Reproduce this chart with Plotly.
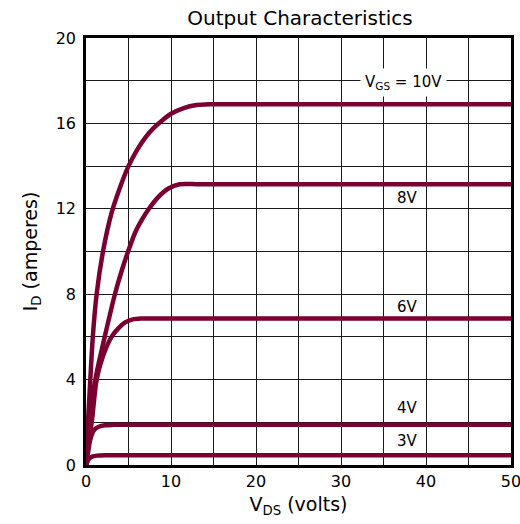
import plotly.graph_objects as go

# V_DS (volts) and I_D (amperes) for each V_GS curve
vds_10 = [0, 0.15, 0.4, 0.8, 1.25, 2.0, 3.0, 4.0, 5.0, 6.0, 7.0, 8.0, 9.0, 10.0, 11.5, 13.0, 14.5, 17.0, 50]
id_10 = [0, 1.4, 3.2, 6.0, 8.0, 10.0, 11.8, 13.0, 14.0, 14.75, 15.35, 15.8, 16.15, 16.45, 16.72, 16.86, 16.9, 16.9, 16.9]

vds_8 = [0, 0.2, 0.6, 1.3, 2.2, 3.4, 4.2, 4.95, 5.8, 6.6, 7.4, 8.5, 9.7, 11.0, 13.5, 50]
id_8 = [0, 1.1, 2.8, 4.4, 6.0, 8.0, 9.1, 10.0, 10.9, 11.5, 12.0, 12.55, 12.95, 13.15, 13.15, 13.15]

vds_6 = [0, 0.25, 0.67, 1.25, 2.0, 3.0, 3.8, 4.6, 5.5, 6.5, 8.5, 50]
id_6 = [0, 1.0, 2.0, 4.0, 5.1, 6.0, 6.4, 6.68, 6.82, 6.86, 6.86, 6.86]

vds_4 = [0, 0.25, 0.45, 0.7, 1.0, 1.5, 2.2, 3.2, 5.0, 50]
id_4 = [0, 0.6, 1.1, 1.45, 1.66, 1.79, 1.86, 1.88, 1.88, 1.88]

vds_3 = [0, 0.2, 0.45, 0.8, 1.3, 2.2, 4.0, 50]
id_3 = [0, 0.18, 0.32, 0.4, 0.44, 0.46, 0.46, 0.46]

curve_labels = ["V<sub>GS</sub> = 10V", "8V", "6V", "4V", "3V"]
label_x = [37.4, 37.8, 37.8, 37.8, 37.8]
label_y = [17.9, 12.5, 7.4, 2.65, 1.12]

series = [(vds_10, id_10), (vds_8, id_8), (vds_6, id_6), (vds_4, id_4), (vds_3, id_3)]
color = "#7a0032"
FONT = "DejaVu Sans, Arial"

fig = go.Figure()
for xs, ys in series:
    fig.add_trace(go.Scatter(x=xs, y=ys, mode="lines",
                             line=dict(color=color, width=4.5, shape="spline", smoothing=0.8),
                             showlegend=False, hoverinfo="skip"))

for i, (t, lx, ly) in enumerate(zip(curve_labels, label_x, label_y)):
    fig.add_annotation(x=lx, y=ly, text=t, showarrow=False,
                       font=dict(family=FONT, size=15, color="black"),
                       bgcolor="white" if i == 0 else "rgba(0,0,0,0)",
                       borderpad=4 if i == 0 else 0)

axis_common = dict(showline=True, linecolor="black", linewidth=2.5, mirror=True,
                   showgrid=True, gridcolor="#1a1a1a", gridwidth=1,
                   zeroline=False, ticks="", layer="below traces", automargin=False,
                   ticklabeloverflow="allow",
                   tickfont=dict(family=FONT, size=16, color="black"))

fig.update_xaxes(range=[0, 50], dtick=10, tick0=0,
                 minor=dict(dtick=5, showgrid=True, gridcolor="#1a1a1a", gridwidth=1),
                 title=dict(text="V<sub>DS</sub> (volts)", standoff=8,
                            font=dict(family=FONT, size=19, color="black")),
                 **axis_common)
fig.update_yaxes(range=[0, 20], dtick=4, tick0=0,
                 minor=dict(dtick=2, showgrid=True, gridcolor="#1a1a1a", gridwidth=1),
                 title=dict(text="I<sub>D</sub> (amperes)", standoff=14,
                            font=dict(family=FONT, size=19, color="black")),
                 ticklabelstandoff=4,
                 **axis_common)

fig.update_layout(
    width=520, height=524,
    margin=dict(l=86, r=9, t=38, b=59),
    paper_bgcolor="white", plot_bgcolor="white",
    title=dict(text="Output Characteristics", x=0.577, xanchor="center", y=0.965, yanchor="middle",
               font=dict(family=FONT, size=20, color="black")),
)

fig.write_html("out.html")
